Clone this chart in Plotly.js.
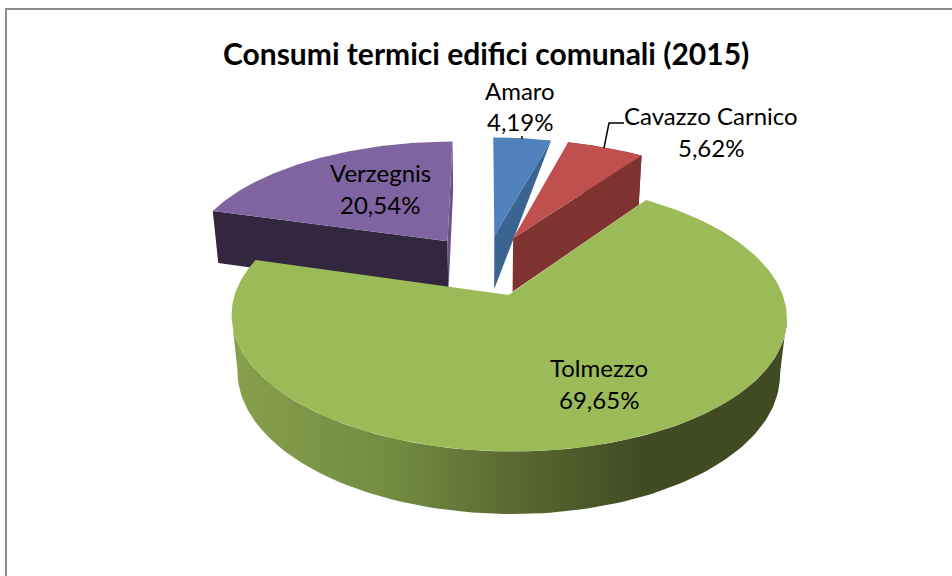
<!DOCTYPE html>
<html><head><meta charset="utf-8">
<script src="https://cdn.plot.ly/plotly-3.0.1.min.js"></script>
<style>html,body{margin:0;padding:0;background:#fff}#c{width:952px;height:576px}</style>
</head><body><div id="c"></div>
<script>
// Data
const categories = ['Amaro', 'Cavazzo Carnico', 'Tolmezzo', 'Verzegnis'];
const shares = [4.19, 5.62, 69.65, 20.54];
const topColors = ['#4f81bd', '#c0504d', '#9bbb59', '#8064a2'];
const faceColors = ['#3a6591', '#7f3331', '#7f9a48', '#33273f'];
const chartTitle = 'Consumi termici edifici comunali (2015)';

// Label anchor points
const labelX = [520, 711, 599, 380];
const labelNameY = [90, 115, 367.5, 172.5];
const labelPctY = [121, 147, 399.5, 204.5];

// Projection of a tilted, exploded pie (perspective)
const cx = 486, cy = 265, A = 264, B = 122, K = 0.155, D = 56, DZ = 0.022, EXPLODE = 0.25;
function proj(u, v, low) {
  const d = 1 + K * v + (low ? DZ : 0);
  return [cx + A * u / d, cy + (-B * v + (low ? D : 0)) / d];
}
const rad = a => a * Math.PI / 180;
const traces = [];
function poly(pts, color, grad) {
  const t = {type: 'scatter', mode: 'lines', x: pts.map(p => p[0]), y: pts.map(p => p[1]),
    fill: 'toself', line: {width: 0, color: color}, fillcolor: color, hoverinfo: 'skip', showlegend: false};
  if (grad) t.fillgradient = {type: 'horizontal', colorscale: grad};
  traces.push(t);
}
const greenWall = [[0, '#86a04c'], [0.3, '#718b41'], [0.49, '#5c6c31'], [0.74, '#404b24'], [1, '#404b24']];

function frontWall(topRim, lowRim) {
  const ext = (r, f) => r.reduce((b, p, k) => (f(p[0], r[b][0]) ? k : b), 0);
  const tR = ext(topRim, (a, b) => a > b), tL = ext(topRim, (a, b) => a < b);
  const lR = ext(lowRim, (a, b) => a > b), lL = ext(lowRim, (a, b) => a < b);
  return topRim.slice(tR, tL + 1).concat(lowRim.slice(lR, lL + 1).reverse());
}

let acc = 0;
const slices = shares.map((s, i) => {
  const a0 = acc * 3.6, a1 = (acc + s) * 3.6;
  acc += s;
  return {i, a0, a1};
});
// back slices first, Tolmezzo in front
[3, 0, 1, 2].forEach(idx => {
  const {i, a0, a1} = slices[idx];
  const m = rad((a0 + a1) / 2);
  const c0 = EXPLODE * Math.sin(m), c1 = EXPLODE * Math.cos(m);
  const rim = low => {
    const p = [];
    for (let a = a0; a <= a1 + 1e-6; a += (a1 - a0) / 180) {
      p.push(proj(c0 + Math.sin(rad(a)), c1 + Math.cos(rad(a)), low));
    }
    return p;
  };
  const topRim = rim(false), lowRim = rim(true);
  const tip = proj(c0, c1, false), tipLow = proj(c0, c1, true);
  const last = topRim.length - 1;
  if (i === 0) {
    // Amaro: only a wedge of the cut face shows
    poly([topRim[last], tip, tipLow], faceColors[i]);
  } else if (i === 3) {
    poly([topRim[0], tip, tipLow, lowRim[0]], faceColors[i]);
    poly([topRim[last], tip, tipLow, lowRim[last]], '#6b5388');
  } else if (i === 1) {
    poly([topRim[last], tip, tipLow, lowRim[last]], faceColors[i]);
    poly(topRim.concat(lowRim.slice().reverse()), faceColors[i]);
  } else {
    poly(frontWall(topRim, lowRim), faceColors[i], greenWall);
  }
  poly([tip].concat(topRim), topColors[i]);
});

// Leader lines
const leaders = [[[624, 609, 604], [123, 123, 148]], [[522, 522], [136, 139]]];
leaders.forEach(l => traces.push({type: 'scatter', mode: 'lines', x: l[0], y: l[1],
  line: {color: '#000', width: 1.5}, hoverinfo: 'skip', showlegend: false}));

const labelFont = {family: 'Lato, Carlito, sans-serif', size: 24, color: '#000'};
const annotations = [];
categories.forEach((name, i) => {
  const pct = shares[i].toFixed(2).replace('.', ',') + '%';
  annotations.push({xref: 'x', yref: 'y', x: labelX[i], y: labelNameY[i], text: name, showarrow: false, font: labelFont, xanchor: 'center', yanchor: 'middle'});
  annotations.push({xref: 'x', yref: 'y', x: labelX[i], y: labelPctY[i], text: pct, showarrow: false, font: labelFont, xanchor: 'center', yanchor: 'middle'});
});
annotations.push({xref: 'x', yref: 'y', x: 485.5, y: 52.5, text: '<b>' + chartTitle + '</b>', showarrow: false,
  font: {family: 'Lato, Carlito, sans-serif', size: 30, color: '#000'}, xanchor: 'center', yanchor: 'middle'});

const layout = {
  width: 952, height: 576, margin: {l: 0, r: 0, t: 0, b: 0},
  paper_bgcolor: '#fff', plot_bgcolor: '#fff', showlegend: false,
  xaxis: {range: [0, 952], visible: false, fixedrange: true},
  yaxis: {range: [576, 0], visible: false, fixedrange: true},
  annotations,
  shapes: [{type: 'path', xref: 'x', yref: 'y', path: 'M6,576 L6,9 L952,9', line: {color: '#8c8c8c', width: 2}, layer: 'below'}]
};
Plotly.newPlot('c', traces, layout, {staticPlot: true, displayModeBar: false});
</script></body></html>
